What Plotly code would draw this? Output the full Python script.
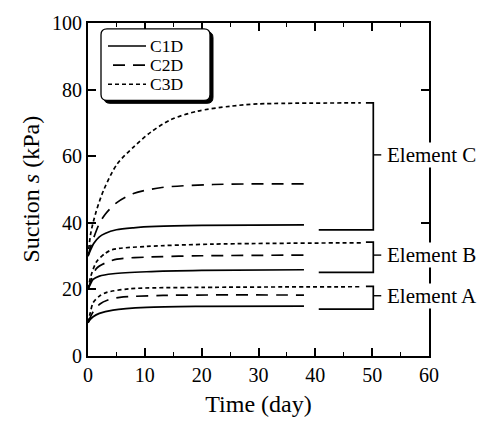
import plotly.graph_objects as go

# ---------------- data ----------------
series_names = ["C1D", "C2D", "C3D"]

# Element C (initial suction 30 kPa)
time_C_C1D = [0, 0.5, 1, 2, 3, 5, 8, 12, 20, 38]
suct_C_C1D = [30, 32, 33.8, 35.8, 36.8, 37.9, 38.5, 38.9, 39.2, 39.4]
time_C_C2D = [0, 0.5, 1, 2, 3, 5, 8, 13, 22, 38]
suct_C_C2D = [30, 33, 35.5, 39.8, 42.5, 46, 48.8, 50.6, 51.5, 51.7]
time_C_C3D = [0, 0.5, 1.4, 2.8, 5.1, 8.1, 11.1, 14.6, 19.2, 25, 30, 48]
suct_C_C3D = [30, 37, 43.2, 50, 57.6, 62.9, 67.3, 71, 73.5, 75, 75.7, 76]

# Element B (initial suction 20 kPa)
time_B_C1D = [0, 0.4, 0.9, 2, 4.4, 10.3, 20, 38]
suct_B_C1D = [20, 21.5, 23, 24, 24.7, 25.3, 25.7, 25.9]
time_B_C2D = [0, 0.5, 1.5, 3, 5.1, 10.3, 20, 38]
suct_B_C2D = [20, 22.5, 26.3, 27.9, 29.1, 29.7, 30.1, 30.3]
time_B_C3D = [0, 0.5, 1.5, 3, 4.4, 10.3, 22, 48]
suct_B_C3D = [20, 24, 28.3, 30.8, 32, 32.9, 33.6, 34]

# Element A (initial suction 10 kPa)
time_A_C1D = [0, 0.4, 0.9, 2, 4.4, 10.3, 20, 38]
suct_A_C1D = [10, 11, 11.8, 12.8, 13.8, 14.6, 14.9, 15]
time_A_C2D = [0, 0.5, 1, 2.1, 3.5, 5.6, 13.2, 38]
suct_A_C2D = [10, 12, 13.5, 15.6, 16.8, 17.6, 18.2, 18.3]
time_A_C3D = [0, 0.4, 0.9, 2, 3.3, 7.4, 20, 48]
suct_A_C3D = [10, 13, 16, 18, 19.1, 20.2, 20.6, 20.8]

# Brackets: label, top, middle, bottom suction (kPa)
bracket_labels = ["Element C", "Element B", "Element A"]
bracket_top = [76, 34.2, 20.9]
bracket_mid = [60.4, 30.3, 18.1]
bracket_bot = [37.9, 25.1, 14.1]

x_ticks = [0, 10, 20, 30, 40, 50, 60]
y_ticks = [0, 20, 40, 60, 80, 100]

# ---------------- styling ----------------
FONT = "Liberation Serif"
W, H = 489, 425
ML, MR, MT, MB = 88, 60, 17, 68
dash_styles = {"C1D": "solid", "C2D": "12px,8px", "C3D": "4px,3px"}

fig = go.Figure()
all_series = [
    (time_C_C1D, suct_C_C1D, "C1D"), (time_C_C2D, suct_C_C2D, "C2D"), (time_C_C3D, suct_C_C3D, "C3D"),
    (time_B_C1D, suct_B_C1D, "C1D"), (time_B_C2D, suct_B_C2D, "C2D"), (time_B_C3D, suct_B_C3D, "C3D"),
    (time_A_C1D, suct_A_C1D, "C1D"), (time_A_C2D, suct_A_C2D, "C2D"), (time_A_C3D, suct_A_C3D, "C3D"),
]
for t, s, name in all_series:
    fig.add_trace(go.Scatter(
        x=t, y=s, mode="lines", name=name, showlegend=False,
        line=dict(color="black", width=1.7, dash=dash_styles[name], shape="spline", smoothing=0.8),
    ))

# Brackets (data coordinates)
bx = 50.2
for lab, top, mid, bot in zip(bracket_labels, bracket_top, bracket_mid, bracket_bot):
    fig.add_trace(go.Scatter(
        x=[48.9, bx, bx, 40.6], y=[top, top, bot, bot], mode="lines", showlegend=False,
        line=dict(color="black", width=1.7), hoverinfo="skip"))
    fig.add_trace(go.Scatter(
        x=[bx, 51.6], y=[mid, mid], mode="lines", showlegend=False,
        line=dict(color="black", width=1.4), hoverinfo="skip"))
    fig.add_annotation(x=52.4, y=mid, xref="x", yref="y", text=lab, showarrow=False,
                       xanchor="left", yanchor="middle", bgcolor="white", borderpad=0,
                       font=dict(family=FONT, size=21, color="black"))

# ---------------- manual legend (rounded box with shadow) ----------------
def px2paper(px, py):
    return (px - ML) / (W - ML - MR), (H - MB - py) / (H - MT - MB)

def rounded_rect(x0, y0, x1, y1, r):
    def P(x, y):
        a, b = px2paper(x, y)
        return f"{a:.5f},{b:.5f}"
    return (f"M {P(x0 + r, y0)} L {P(x1 - r, y0)} Q {P(x1, y0)} {P(x1, y0 + r)} "
            f"L {P(x1, y1 - r)} Q {P(x1, y1)} {P(x1 - r, y1)} L {P(x0 + r, y1)} "
            f"Q {P(x0, y1)} {P(x0, y1 - r)} L {P(x0, y0 + r)} Q {P(x0, y0)} {P(x0 + r, y0)} Z")

fig.add_shape(type="path", xref="paper", yref="paper", path=rounded_rect(104, 26, 213, 99, 6),
              fillcolor="black", line=dict(color="black", width=1), layer="above")
fig.add_shape(type="path", xref="paper", yref="paper", path=rounded_rect(101, 23, 210, 96, 6),
              fillcolor="white", line=dict(color="black", width=1.3), layer="above")
leg_rows = [40.5, 60, 79.5]
for name, ry in zip(series_names, leg_rows):
    xa, ya = px2paper(108 if name != "C2D" else 113, ry)
    xb, _ = px2paper(146, ry)
    fig.add_shape(type="line", xref="paper", yref="paper", x0=xa, x1=xb, y0=ya, y1=ya,
                  line=dict(color="black", width=1.6, dash=dash_styles[name]), layer="above")
    xt, yt = px2paper(149, ry)
    fig.add_annotation(x=xt, y=yt, xref="paper", yref="paper", text=name, showarrow=False,
                       xanchor="left", yanchor="middle", borderpad=0,
                       font=dict(family=FONT, size=17.5, color="black"))

# y-axis title as annotation for precise placement
yx, yy = px2paper(30, 187)
fig.add_annotation(x=yx, y=yy, xref="paper", yref="paper", text="Suction <i>s</i> (kPa)",
                   textangle=-90, showarrow=False, xanchor="center", yanchor="middle",
                   font=dict(family=FONT, size=24, color="black"))

axis_common = dict(
    showline=True, linecolor="black", linewidth=2, mirror="ticks",
    ticks="inside", ticklen=8, tickwidth=1.6, tickcolor="black",
    showgrid=False, zeroline=False,
    tickfont=dict(family=FONT, size=20, color="black"),
)
fig.update_xaxes(range=[0, 60], tickvals=x_ticks, **axis_common,
                 minor=dict(ticks="inside", ticklen=4, tickwidth=1.4, dtick=5, tickcolor="black"),
                 title=dict(text="Time (day)", font=dict(family=FONT, size=24, color="black"), standoff=10))
fig.update_yaxes(range=[0, 100], tickvals=y_ticks, **axis_common)

fig.update_layout(
    width=W, height=H, margin=dict(l=ML, r=MR, t=MT, b=MB),
    paper_bgcolor="white", plot_bgcolor="white", showlegend=False,
)
fig.write_html("out.html")
